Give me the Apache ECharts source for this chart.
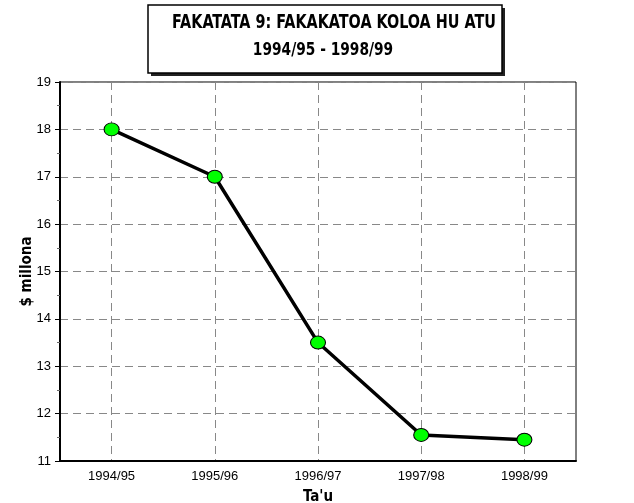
<!DOCTYPE html>
<html>
<head>
<meta charset="utf-8">
<script src="https://cdn.jsdelivr.net/npm/echarts@6/dist/echarts.min.js"></script>
<style>
  html, body { margin: 0; padding: 0; background: #fff; }
  #chart { width: 634px; height: 503px; }
</style>
</head>
<body>
<div id="chart"></div>
<script>
const years = ['1994/95', '1995/96', '1996/97', '1997/98', '1998/99']
const sales = [18, 17, 13.5, 11.55, 11.45]

const titleLine1 = 'FAKATATA 9: FAKAKATOA KOLOA HU ATU'
const titleLine2 = '1994/95 - 1998/99'

const headFont = '"DejaVu Sans Condensed", "DejaVu Sans", sans-serif'
const labelFont = '"Liberation Sans", Arial, sans-serif'

const chart = echarts.init(document.getElementById('chart'))
chart.setOption({
  backgroundColor: '#fff',
  animation: false,
  graphic: [
    // title box with a drop shadow
    {
      type: 'rect',
      shape: { x: 151, y: 8, width: 354, height: 68 },
      style: { fill: '#222' }
    },
    {
      type: 'rect',
      shape: { x: 148, y: 5, width: 354, height: 68 },
      style: { fill: '#fff', stroke: '#000', lineWidth: 1.5 }
    },
    {
      type: 'text', x: 334, y: 23, scaleX: 0.8,
      style: { text: titleLine1, font: 'bold 20px ' + headFont, fill: '#000', textAlign: 'center', textVerticalAlign: 'middle' }
    },
    {
      type: 'text', x: 323, y: 51, scaleX: 0.9,
      style: { text: titleLine2, font: 'bold 17px ' + headFont, fill: '#000', textAlign: 'center', textVerticalAlign: 'middle' }
    }
  ],
  grid: {
    left: 60, right: 58, top: 82, bottom: 42,
    outerBoundsMode: 'none',
    show: true, borderColor: '#000', borderWidth: 1
  },
  xAxis: {
    type: 'category',
    data: years,
    boundaryGap: true,
    name: "Ta'u",
    nameLocation: 'middle',
    nameGap: 29,
    nameTextStyle: { fontFamily: headFont, fontWeight: 'bold', fontSize: 15, color: '#000' },
    axisLine: { lineStyle: { color: '#000', width: 2 } },
    axisTick: { show: false },
    axisLabel: { color: '#000', fontSize: 13, fontFamily: labelFont, margin: 9 },
    splitLine: { show: true, alignWithLabel: true, lineStyle: { color: '#888', type: [8, 5] } }
  },
  yAxis: {
    type: 'value',
    min: 11,
    max: 19,
    interval: 1,
    name: '$ millona',
    nameLocation: 'middle',
    nameGap: 25,
    nameMoveOverlap: false,
    nameTextStyle: { fontFamily: headFont, fontWeight: 'bold', fontSize: 15, color: '#000' },
    axisLine: { show: true, lineStyle: { color: '#000', width: 2 } },
    axisTick: { show: true, length: 5, lineStyle: { color: '#000' } },
    minorTick: { show: true, splitNumber: 2, length: 3, lineStyle: { color: '#666' } },
    axisLabel: { color: '#000', fontSize: 13, fontFamily: labelFont, margin: 9 },
    splitLine: { show: true, lineStyle: { color: '#888', type: [8, 5] } }
  },
  series: [{
    type: 'line',
    data: sales,
    symbol: 'circle',
    symbolSize: [15, 13],
    lineStyle: { color: '#000', width: 3.5 },
    itemStyle: { color: '#00ff00', borderColor: '#000', borderWidth: 1 }
  }]
})
</script>
</body>
</html>
